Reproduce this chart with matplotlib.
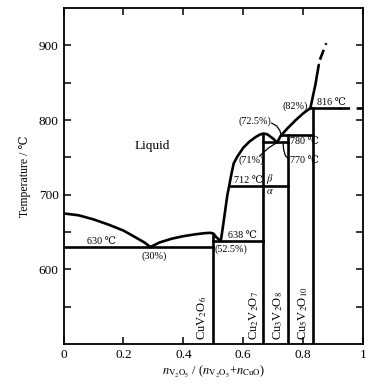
import matplotlib
matplotlib.use('Agg')
import matplotlib.pyplot as plt
from matplotlib.ticker import FixedLocator

plt.rcParams['font.family'] = ['Liberation Serif', 'DejaVu Serif']
plt.rcParams['mathtext.fontset'] = 'stix'

# 液相线各段 (x = V2O5 摩尔分数, T / ℃)
liq1_x = [0, 0.05, 0.10, 0.15, 0.20, 0.24, 0.27, 0.29]
liq1_t = [675, 672.5, 667, 660, 652, 643, 636, 630]

liq2_x = [0.29, 0.32, 0.36, 0.40, 0.44, 0.47, 0.49, 0.50, 0.51, 0.525]
liq2_t = [630, 636, 641, 644.5, 647, 648.5, 649, 648, 643, 638]

liq3_x = [0.525, 0.533, 0.540, 0.547, 0.553, 0.560, 0.568, 0.580, 0.600, 0.620,
          0.640, 0.655, 0.667, 0.680, 0.690, 0.700, 0.713]
liq3_t = [638, 660, 680, 700, 712, 727, 742, 751, 763, 771,
          777, 780.5, 782, 781, 778, 775, 770]

liq4_x = [0.713, 0.725, 0.750, 0.775, 0.800, 0.824, 0.841, 0.852]
liq4_t = [770, 779, 790, 800, 809, 816, 848, 874]

liq4_dash_x = [0.856, 0.877]
liq4_dash_t = [881, 903]

# 化合物竖线 (x, 上端温度)
comp_x = [0.5, 0.667, 0.75, 0.833]
comp_top = [648, 782, 780, 816]
comp_names = [r'CuV$_2$O$_6$', r'Cu$_2$V$_2$O$_7$', r'Cu$_3$V$_2$O$_8$', r'Cu$_5$V$_2$O$_{10}$']
comp_label_x = [0.462, 0.636, 0.716, 0.800]

# 等温线 (x起点, x终点, T)
iso = [(0, 0.5, 630), (0.5, 0.667, 638), (0.553, 0.75, 712),
       (0.667, 0.75, 770), (0.725, 0.833, 780), (0.824, 0.92, 816)]

# 标注文字
labels = ['630 ℃', '(30%)', '(52.5%)', '638 ℃', '712 ℃', '(72.5%)', '(71%)',
          '780 ℃', '770 ℃', '(82%)', '816 ℃']
label_x = [0.128, 0.301, 0.559, 0.598, 0.618, 0.640, 0.626, 0.803, 0.803, 0.774, 0.894]
label_t = [637, 618, 627, 646, 719, 798, 746, 771, 746, 819, 823]

fig = plt.figure(figsize=(3.9, 3.87), dpi=100)
ax = fig.add_axes([0.163, 0.111, 0.768, 0.868])

lw = 1.9
for xs, ts in [(liq1_x, liq1_t), (liq2_x, liq2_t), (liq3_x, liq3_t), (liq4_x, liq4_t)]:
    ax.plot(xs, ts, color='black', lw=lw, solid_capstyle='round')
ax.plot(liq4_dash_x, liq4_dash_t, color='black', lw=lw, dashes=(4, 2))

for cx, ct in zip(comp_x, comp_top):
    ax.plot([cx, cx], [500, ct], color='black', lw=lw)

for x0, x1, t in iso:
    ax.plot([x0, x1], [t, t], color='black', lw=lw)
ax.plot([0.92, 1.0], [816, 816], color='black', lw=lw, dashes=(4, 2.5))

# 引线
ax.plot([0.695, 0.712, 0.722, 0.728], [796, 792, 786, 779], color='black', lw=0.9)
ax.plot([0.655, 0.685, 0.713], [752, 763, 770], color='black', lw=0.9)
ax.plot([0.733, 0.735, 0.741, 0.752], [768, 760, 752, 748], color='black', lw=0.9)

for s, lx, lt in zip(labels, label_x, label_t):
    ax.text(lx, lt, s, fontsize=7.3, ha='center', va='center')
ax.text(0.69, 721, r'$\beta$', fontsize=7.5, ha='center', va='center')
ax.text(0.69, 704, r'$\alpha$', fontsize=7.5, ha='center', va='center')
ax.text(0.295, 765, 'Liquid', fontsize=9.5, ha='center', va='center')

for name, lx in zip(comp_names, comp_label_x):
    ax.text(lx, 505, name, fontsize=9, rotation=90, ha='center', va='bottom')

ax.set_xlim(0, 1)
ax.set_ylim(500, 950)
ax.set_xticks([0, 0.2, 0.4, 0.6, 0.8, 1])
ax.set_xticklabels(['0', '0.2', '0.4', '0.6', '0.8', '1'])
ax.set_yticks([600, 700, 800, 900])
ax.yaxis.set_minor_locator(FixedLocator([550, 650, 750, 850]))
ax.tick_params(which='both', direction='in', top=True, right=True,
               length=5, width=1.1, labelsize=9.5)
for sp in ax.spines.values():
    sp.set_linewidth(1.3)

ax.set_xlabel(r'$n_{\mathrm{V_2O_5}}$ / ($n_{\mathrm{V_2O_5}}$+$n_{\mathrm{CuO}}$)', fontsize=9, labelpad=2)
ax.set_ylabel('Temperature / ℃', fontsize=8.5, labelpad=6)

fig.savefig('out.png', dpi=100)
